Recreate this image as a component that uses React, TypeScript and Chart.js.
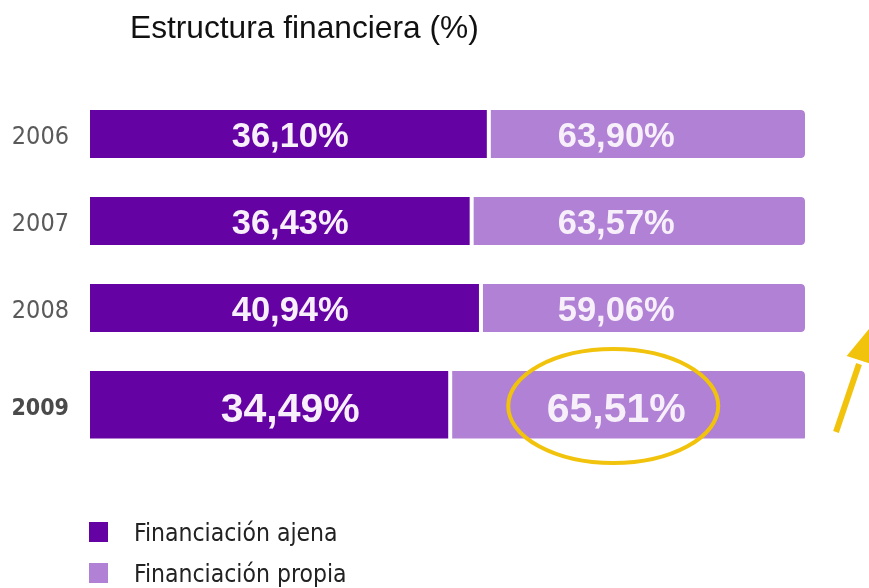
import React, { useEffect, useRef } from "react";
import { Chart, registerables } from "chart.js";

Chart.register(...registerables);

// ---- data ----
const years = ["2006", "2007", "2008", "2009"];
// values printed on the bars (%)
const ajenaValues = [36.1, 36.43, 40.94, 34.49];
const propiaValues = [63.9, 63.57, 59.06, 65.51];
// segment lengths as drawn in the picture (share of the full bar, %)
const ajenaDrawn = [55.5, 53.1, 54.4, 50.1];
const propiaDrawn = [44.5, 46.9, 45.6, 49.9];
const seriesNames = ["Financiación ajena", "Financiación propia"];
const highlightIndex = 3;

const TITLE = "Estructura financiera (%)";
const DARK = "#6502a4";
const LIGHT = "#b081d4";
const YELLOW = "#f1c30c";
const NARROW = '"Liberation Sans Narrow", "DejaVu Sans Condensed", "Liberation Sans", sans-serif';
const SANS = '"Liberation Sans", Arial, sans-serif';

const fmt = (v: number) => v.toFixed(2).replace(".", ",") + "%";

const highlightPlugin = {
  id: "highlightBar",
  afterDatasetsUpdate(chart: any) {
    chart.data.datasets.forEach((_: any, di: number) => {
      const meta = chart.getDatasetMeta(di);
      const el = meta.data[highlightIndex];
      if (!el) return;
      const top = el.y - el.height / 2;
      const h = el.height * (70 / 48);
      el.height = h;
      el.y = top + h / 2;
    });
  },
};

const decorPlugin = {
  id: "decor",
  afterDatasetsDraw(chart: any) {
    const ctx = chart.ctx;
    const xs = chart.scales.x;
    const area = chart.chartArea;
    const m0 = chart.getDatasetMeta(0);
    ctx.save();
    years.forEach((yr, i) => {
      const el = m0.data[i];
      const hi = i === highlightIndex;
      // year label
      const yfs = hi ? 23 : 25;
      ctx.font = `${hi ? "bold " : ""}${yfs}px ${NARROW}`;
      ctx.fillStyle = hi ? "#4a4a4a" : "#5a5a5a";
      ctx.textAlign = "right";
      ctx.textBaseline = "alphabetic";
      ctx.fillText(yr, area.left - 21, el.y + (0.729 * yfs) / 2 + 1);
      // value labels
      const fs = hi ? 41 : 34.5;
      ctx.font = `bold ${fs}px ${SANS}`;
      ctx.fillStyle = "#f7f0fb";
      ctx.textAlign = "center";
      const base = el.y + (0.716 * fs) / 2 + 1;
      ctx.fillText(fmt(ajenaValues[i]), xs.getPixelForValue(28), base);
      ctx.fillText(fmt(propiaValues[i]), xs.getPixelForValue(73.6), base);
    });
    // highlight ellipse
    const hel = m0.data[highlightIndex];
    const cx = xs.getPixelForValue(73.6);
    ctx.strokeStyle = YELLOW;
    ctx.lineWidth = 4;
    ctx.beginPath();
    ctx.ellipse(cx - 3, hel.y, 105, 57, 0, 0, Math.PI * 2);
    ctx.stroke();
    // arrow
    const sx = area.right + 31, sy = hel.y + 26;
    const bx = area.right + 54, by = hel.y - 46;
    const tx = area.right + 64, ty = hel.y - 77;
    ctx.lineWidth = 6;
    ctx.beginPath();
    ctx.moveTo(sx, sy);
    ctx.lineTo(bx, by + 4);
    ctx.stroke();
    const dx = tx - bx, dy = ty - by;
    const len = Math.hypot(dx, dy);
    const px = -dy / len, py = dx / len;
    ctx.fillStyle = YELLOW;
    ctx.beginPath();
    ctx.moveTo(tx, ty);
    ctx.lineTo(bx + px * 13, by + py * 13);
    ctx.lineTo(bx - px * 13, by - py * 13);
    ctx.closePath();
    ctx.fill();
    ctx.restore();
  },
  afterDraw(chart: any) {
    const ctx = chart.ctx;
    ctx.save();
    // title
    ctx.font = `31.7px ${SANS}`;
    ctx.fillStyle = "#111111";
    ctx.textAlign = "left";
    ctx.textBaseline = "alphabetic";
    ctx.fillText(TITLE, 130, 38);
    // legend
    chart.data.datasets.forEach((ds: any, i: number) => {
      const y = 522 + i * 41;
      ctx.fillStyle = ds.backgroundColor;
      ctx.fillRect(89, y, 19, 20);
      ctx.fillStyle = "#222222";
      ctx.font = `24.5px ${NARROW}`;
      ctx.fillText(ds.label, 134, y + 19);
    });
    ctx.restore();
  },
};

export default function App() {
  const ref = useRef<HTMLCanvasElement | null>(null);
  useEffect(() => {
    if (!ref.current) return;
    const chart = new Chart(ref.current, {
      type: "bar",
      data: {
        labels: years,
        datasets: [
          {
            label: seriesNames[0],
            data: ajenaDrawn,
            backgroundColor: DARK,
            borderRadius: 4,
            borderSkipped: false,
            barPercentage: 0.8,
            categoryPercentage: 0.69,
          },
          {
            label: seriesNames[1],
            data: propiaDrawn,
            backgroundColor: LIGHT,
            borderColor: "#ffffff",
            borderWidth: { left: 4, right: 0, top: 0, bottom: 0 },
            borderRadius: 4,
            borderSkipped: false,
            barPercentage: 0.8,
            categoryPercentage: 0.69,
          },
        ],
      } as any,
      options: {
        indexAxis: "y",
        animation: false,
        responsive: true,
        maintainAspectRatio: false,
        layout: { padding: { left: 90, right: 64, top: 90.5, bottom: 149.5 } },
        plugins: {
          legend: { display: false },
          title: { display: false },
          tooltip: { enabled: false },
        },
        scales: {
          x: { stacked: true, min: 0, max: 100, display: false },
          y: { stacked: true, display: false, offset: true },
        },
      } as any,
      plugins: [highlightPlugin, decorPlugin],
    });
    return () => chart.destroy();
  }, []);
  return (
    <div style={{ position: "fixed", left: 0, top: 0, width: 869, height: 588, background: "#ffffff" }}>
      <canvas ref={ref} />
    </div>
  );
}
